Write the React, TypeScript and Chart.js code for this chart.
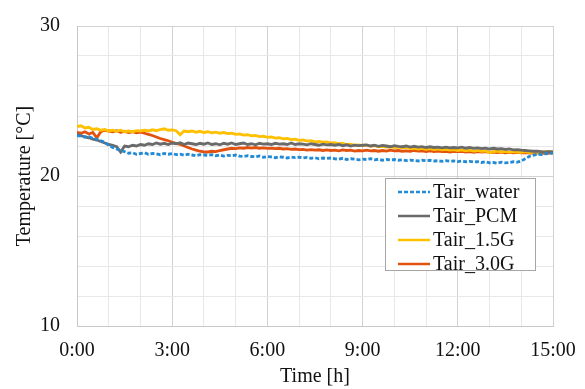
import React, { useEffect, useRef } from "react";
import { Chart, registerables } from "chart.js";

Chart.register(...registerables);

// Sample times in hours (every 7.5 minutes, 0 to 15 h)
const hours: number[] = Array.from({ length: 121 }, (_, i) => i * 0.125);

const seriesNames: string[] = ["Tair_water", "Tair_PCM", "Tair_1.5G", "Tair_3.0G"];

const tairWater: number[] = [
  22.7, 22.65, 22.6, 22.62, 22.5, 22.45, 22.35, 22.25, 22.05,
  21.9, 21.8, 21.7, 21.62, 21.52, 21.55, 21.45, 21.5,
  21.55, 21.45, 21.5, 21.48, 21.42, 21.5, 21.45, 21.5,
  21.42, 21.45, 21.38, 21.45, 21.4, 21.35, 21.42, 21.4,
  21.38, 21.42, 21.35, 21.4, 21.33, 21.38, 21.35, 21.4,
  21.32, 21.3, 21.36, 21.3, 21.28, 21.33, 21.25, 21.3,
  21.27, 21.22, 21.28, 21.25, 21.2, 21.26, 21.22, 21.25,
  21.2, 21.24, 21.18, 21.22, 21.15, 21.2, 21.17, 21.2,
  21.15, 21.12, 21.18, 21.1, 21.15, 21.12, 21.08, 21.12,
  21.1, 21.15, 21.08, 21.12, 21.05, 21.1, 21.07, 21.1,
  21.05, 21.08, 21.02, 21.06, 21.03, 21.0, 21.05, 21.02,
  21.05, 21.0, 21.02, 20.97, 21.02, 20.98, 21.0, 20.96,
  21.0, 20.95, 20.98, 20.93, 20.96, 20.9, 20.95, 20.88,
  20.9, 20.85, 20.92, 20.88, 20.9, 20.95, 20.92, 21.0,
  21.15, 21.3, 21.38, 21.45, 21.42, 21.48, 21.5, 21.52,
];

const tairPCM: number[] = [
  22.75, 22.7, 22.6, 22.55, 22.45, 22.4, 22.3, 22.2, 22.1,
  22.05, 21.95, 21.6, 22.0, 21.95, 22.05, 22.0, 22.1,
  22.05, 22.15, 22.1, 22.2, 22.12, 22.18, 22.1, 22.2,
  22.15, 22.22, 22.1, 22.2, 22.15, 22.1, 22.18, 22.12,
  22.2, 22.1, 22.15, 22.08, 22.18, 22.12, 22.2, 22.1,
  22.15, 22.2, 22.1, 22.15, 22.08, 22.18, 22.12, 22.15,
  22.1, 22.18, 22.12, 22.15, 22.1, 22.2, 22.1, 22.15,
  22.12, 22.08, 22.15, 22.1, 22.05, 22.12, 22.08, 22.1,
  22.05, 22.1, 22.02, 22.08, 22.0, 22.06, 22.02, 22.05,
  22.08, 22.0, 22.05, 21.98, 22.04, 22.0, 21.95, 22.02,
  21.98, 21.95, 22.0, 21.93, 21.98, 21.92, 21.96, 21.9,
  21.95, 21.9, 21.93, 21.88, 21.92, 21.87, 21.9, 21.88,
  21.92, 21.85, 21.9, 21.84, 21.88, 21.82, 21.86, 21.8,
  21.85, 21.8, 21.82, 21.78, 21.8, 21.74, 21.76, 21.72,
  21.7, 21.68, 21.65, 21.66, 21.62, 21.6, 21.62, 21.6,
];

const tair15G: number[] = [
  23.3, 23.35, 23.2, 23.25, 23.1, 23.15, 23.05, 23.1, 23.0,
  23.05, 22.98, 23.05, 22.95, 23.0, 22.95, 23.02, 23.0,
  23.05, 23.0, 23.08, 23.02, 23.1, 23.15, 23.05, 23.08,
  23.02, 22.75, 23.0, 22.95, 23.0, 22.92, 22.98, 22.9,
  22.95, 22.88, 22.92, 22.85, 22.9, 22.82, 22.85, 22.78,
  22.8, 22.72, 22.75, 22.68, 22.7, 22.62, 22.65, 22.58,
  22.6, 22.52, 22.55, 22.48, 22.5, 22.42, 22.45, 22.38,
  22.4, 22.33, 22.35, 22.28, 22.3, 22.25, 22.27, 22.2,
  22.22, 22.15, 22.18, 22.1, 22.12, 22.05, 22.08, 22.02,
  22.05, 21.98, 22.02, 21.95, 21.98, 21.92, 21.95, 21.9,
  21.92, 21.87, 21.9, 21.83, 21.86, 21.8, 21.84, 21.78,
  21.82, 21.76, 21.8, 21.74, 21.78, 21.72, 21.76, 21.7,
  21.74, 21.68, 21.72, 21.66, 21.7, 21.64, 21.68, 21.55,
  21.62, 21.66, 21.6, 21.64, 21.58, 21.62, 21.6, 21.58,
  21.62, 21.56, 21.6, 21.58, 21.62, 21.6, 21.64, 21.6,
];

const tair30G: number[] = [
  22.9, 22.85, 22.95, 22.8, 22.9, 22.55, 22.95, 23.05, 23.0,
  22.95, 23.02, 22.92, 22.98, 22.9, 22.95, 22.88, 22.92,
  22.85, 22.78, 22.7, 22.6, 22.5, 22.42, 22.35, 22.25,
  22.18, 22.1, 22.0, 21.9, 21.8, 21.72, 21.65, 21.6,
  21.6, 21.65, 21.62, 21.7, 21.75, 21.8, 21.85, 21.82,
  21.88, 21.85, 21.9, 21.86, 21.9, 21.85, 21.88, 21.84,
  21.86, 21.82, 21.85, 21.8, 21.83, 21.78, 21.8, 21.76,
  21.78, 21.73, 21.76, 21.72, 21.75, 21.7, 21.74, 21.7,
  21.72, 21.68, 21.74, 21.7, 21.72, 21.66, 21.7, 21.68,
  21.72, 21.67, 21.7, 21.65, 21.7, 21.66, 21.72, 21.68,
  21.7, 21.65, 21.68, 21.64, 21.7, 21.66, 21.68, 21.63,
  21.67, 21.63, 21.66, 21.62, 21.65, 21.6, 21.64, 21.62,
  21.65, 21.6, 21.63, 21.58, 21.62, 21.6, 21.63, 21.58,
  21.6, 21.56, 21.6, 21.55, 21.58, 21.55, 21.57, 21.54,
  21.56, 21.52, 21.55, 21.52, 21.55, 21.5, 21.54, 21.52,
];

const seriesValues: number[][] = [tairWater, tairPCM, tair15G, tair30G];
const seriesColors: string[] = ["#238ad6", "#6a6a6a", "#ffc000", "#e2520e"];
const seriesDash: number[][] = [[4, 2], [], [], []];

const xTickLabels: string[] = ["0:00", "3:00", "6:00", "9:00", "12:00", "15:00"];
const yTickLabels: number[] = [10, 20, 30];

const FONT = "'Liberation Serif', 'Times New Roman', serif";

const legendPlugin = {
  id: "boxLegend",
  afterDraw(chart: any) {
    const ctx = chart.ctx;
    const x0 = 385.5, y0 = 178.5, w = 150, h = 92;
    ctx.save();
    ctx.fillStyle = "#ffffff";
    ctx.fillRect(x0, y0, w, h);
    ctx.strokeStyle = "#a6a6a6";
    ctx.lineWidth = 1;
    ctx.strokeRect(x0, y0, w, h);
    ctx.font = "20px " + FONT;
    ctx.textBaseline = "middle";
    ctx.textAlign = "left";
    chart.data.datasets.forEach((ds: any, i: number) => {
      const y = 192 + i * 24;
      ctx.beginPath();
      ctx.strokeStyle = ds.borderColor;
      ctx.lineWidth = 2.5;
      ctx.setLineDash(ds.borderDash || []);
      ctx.moveTo(398, y);
      ctx.lineTo(430, y);
      ctx.stroke();
      ctx.setLineDash([]);
      ctx.fillStyle = "#111";
      ctx.fillText(ds.label, 433, y + 1);
    });
    ctx.restore();
  },
};

export default function App() {
  const ref = useRef<HTMLCanvasElement>(null);

  useEffect(() => {
    if (!ref.current) return;
    const chart = new Chart(ref.current, {
      type: "line",
      data: {
        datasets: seriesNames.map((name, i) => ({
          label: name,
          data: hours.map((h, j) => ({ x: h, y: seriesValues[i][j] })),
          borderColor: seriesColors[i],
          backgroundColor: seriesColors[i],
          borderDash: seriesDash[i],
          borderWidth: 2.8,
          pointRadius: 0,
          tension: 0,
        })),
      },
      options: {
        responsive: false,
        animation: false,
        layout: { padding: { top: 26, right: 32, left: 0, bottom: 0 } },
        plugins: {
          legend: { display: false },
          tooltip: { enabled: false },
        },
        scales: {
          x: {
            type: "linear",
            min: 0,
            max: 15,
            afterFit: (s: any) => {
              s.height = 63;
              s.paddingLeft = 0;
              s.paddingRight = 0;
            },
            afterBuildTicks: (s: any) => {
              s.ticks = [];
              for (let v = 0; v <= 15; v++) s.ticks.push({ value: v });
            },
            ticks: {
              autoSkip: false,
              maxRotation: 0,
              padding: 13,
              color: "#111",
              font: { family: FONT, size: 20 },
              callback: (v: any) => {
                const n = Number(v);
                return n % 3 === 0 ? xTickLabels[n / 3] : "";
              },
            },
            grid: {
              drawTicks: false,
              color: (c: any) => (c.tick && c.tick.value % 3 === 0 ? "#d2d2d2" : "#e8e8e8"),
              lineWidth: 1,
            },
            border: { display: true, color: "#c8c8c8" },
            title: {
              display: true,
              text: "Time [h]",
              color: "#111",
              font: { family: FONT, size: 20 },
              padding: { top: 0, bottom: 0 },
            },
          },
          y: {
            type: "linear",
            min: 10,
            max: 30,
            afterFit: (s: any) => {
              s.width = 77;
              s.paddingTop = 0;
              s.paddingBottom = 0;
            },
            afterBuildTicks: (s: any) => {
              s.ticks = [];
              for (let v = 10; v <= 30; v++) s.ticks.push({ value: v });
            },
            ticks: {
              padding: 17,
              color: "#111",
              font: { family: FONT, size: 20 },
              callback: (v: any) => (yTickLabels.includes(Number(v)) ? String(v) : ""),
            },
            grid: {
              drawTicks: false,
              color: (c: any) => (c.tick && c.tick.value % 10 === 0 ? "#d2d2d2" : "#e8e8e8"),
              lineWidth: 1,
            },
            border: { display: true, color: "#c8c8c8" },
            title: {
              display: true,
              text: "Temperature [°C]",
              color: "#111",
              font: { family: FONT, size: 20 },
              padding: { top: 13, bottom: 0 },
            },
          },
        },
      },
      plugins: [legendPlugin],
    });
    return () => chart.destroy();
  }, []);

  return (
    <div style={{ position: "fixed", left: 0, top: 0, width: 585, height: 389, background: "#fff" }}>
      <canvas ref={ref} width={585} height={389} style={{ display: "block" }} />
    </div>
  );
}
